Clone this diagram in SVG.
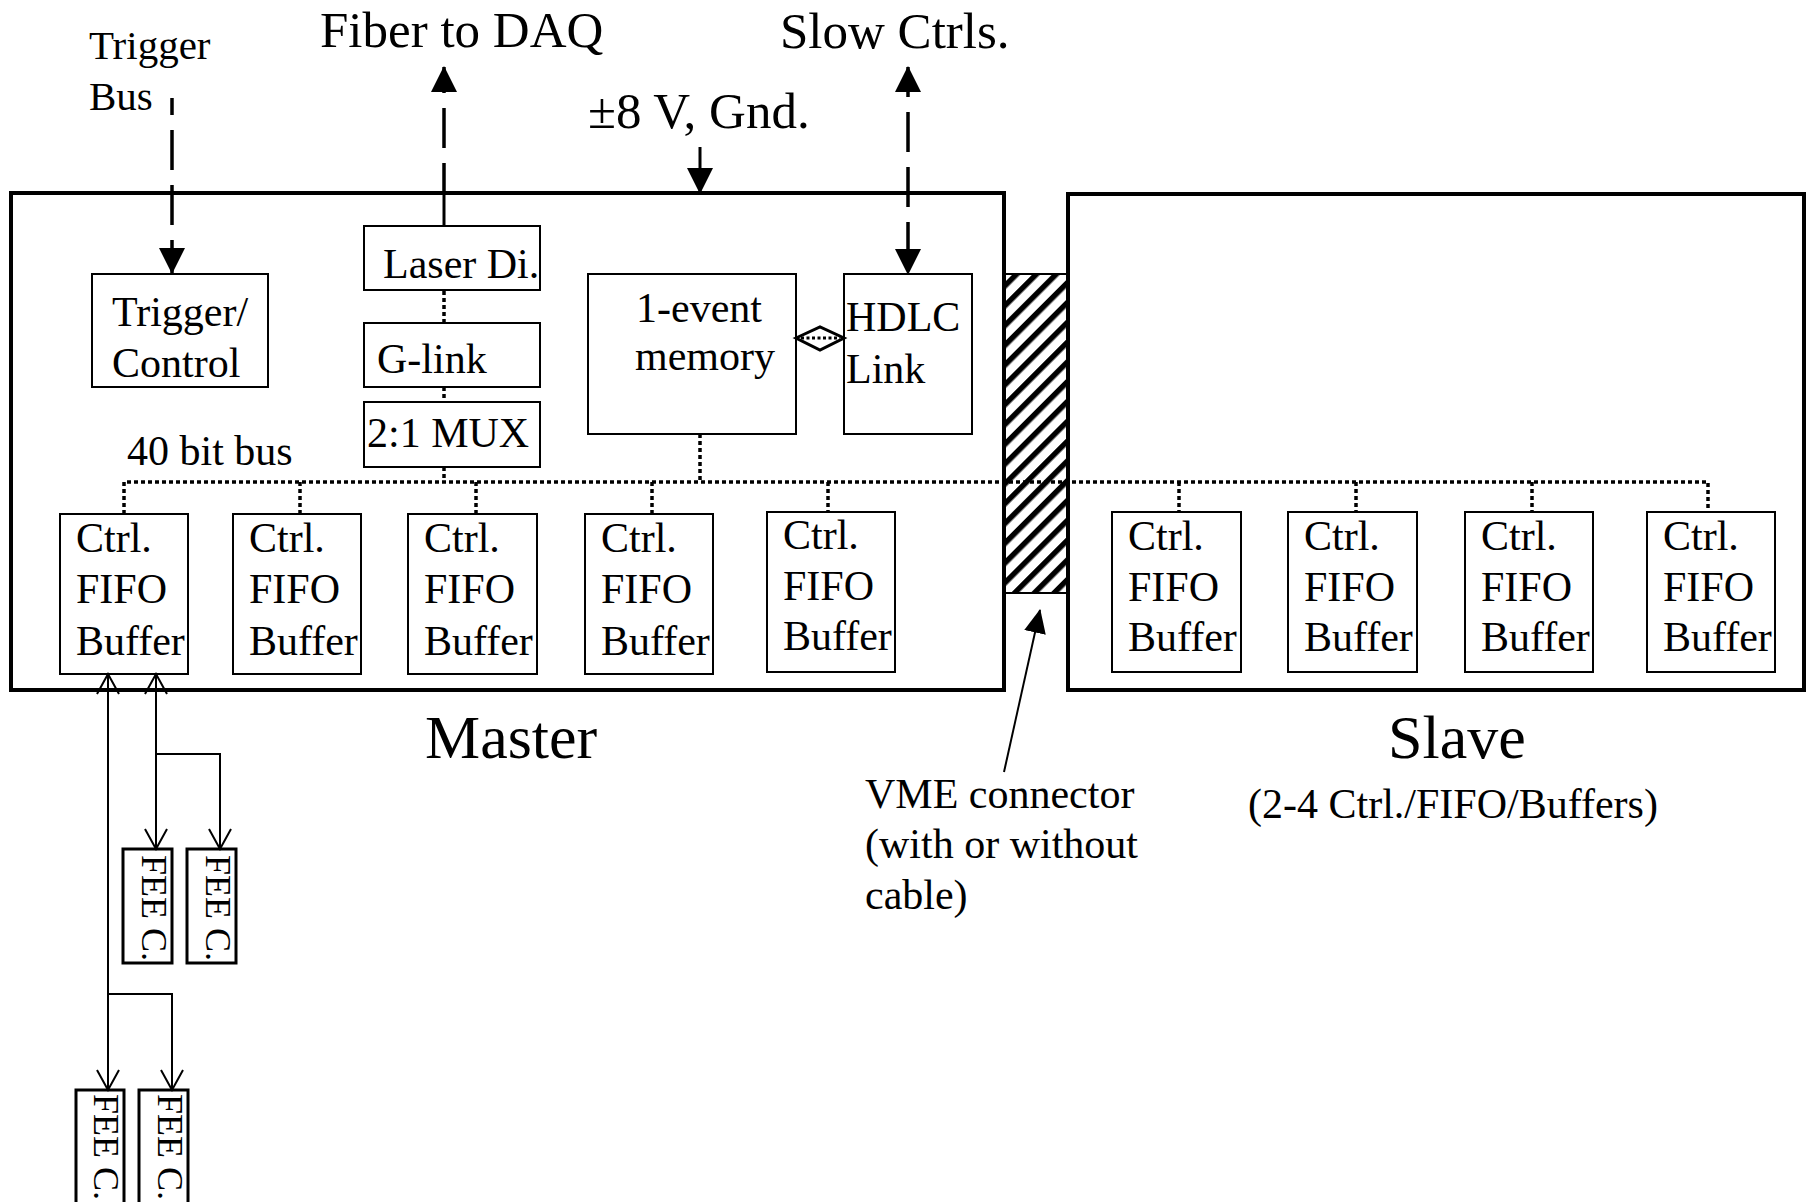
<svg xmlns="http://www.w3.org/2000/svg" width="1813" height="1202" viewBox="0 0 1813 1202">
<style>
text{font-family:"Liberation Serif","Times New Roman",serif;fill:#000}
.t42{font-size:42px}
.t51{font-size:51px}
.t62{font-size:62px}
.board{fill:none;stroke:#000;stroke-width:4}
.box{fill:#fff;stroke:#000;stroke-width:2}
.fee{fill:#fff;stroke:#000;stroke-width:3}
.dot{fill:none;stroke:#000;stroke-width:3.5;stroke-dasharray:4 3}
.dash{fill:none;stroke:#000;stroke-width:3.5;stroke-dasharray:40 15}
.solid{fill:none;stroke:#000;stroke-width:3}
.thin{fill:none;stroke:#000;stroke-width:2}
</style>
<defs>
<marker id="fa" markerUnits="userSpaceOnUse" markerWidth="26" markerHeight="26" viewBox="0 0 26 26" refX="25" refY="13" orient="auto-start-reverse"><path d="M0,0 L26,13 L0,26 z" fill="#000"/></marker>
<marker id="fs" markerUnits="userSpaceOnUse" markerWidth="24" markerHeight="24" viewBox="0 0 24 24" refX="23" refY="12" orient="auto-start-reverse"><path d="M0,1 L24,12 L0,23 z" fill="#000"/></marker>
<marker id="oa" markerUnits="userSpaceOnUse" markerWidth="24" markerHeight="26" viewBox="0 0 24 26" refX="22" refY="13" orient="auto-start-reverse"><path d="M2,2 L22,13 L2,24" fill="none" stroke="#000" stroke-width="2"/></marker>
<pattern id="hatch" patternUnits="userSpaceOnUse" width="14" height="14" patternTransform="rotate(45)"><rect x="0" y="0" width="14" height="14" fill="#fff"/><rect x="0" y="0" width="5.5" height="14" fill="#000"/></pattern>
</defs>
<rect width="1813" height="1202" fill="#fff"/>

<g id="master">
<rect class="board" x="11" y="193" width="993" height="497"/>
<text class="t62" x="425" y="758">Master</text>
</g>
<g id="slave">
<rect class="board" x="1068" y="194" width="736" height="496"/>
<text class="t62" x="1388" y="758">Slave</text>
<text class="t42" x="1248" y="818">(2-4 Ctrl./FIFO/Buffers)</text>
</g>
<g id="vme-connector">
<rect x="1004" y="274" width="64" height="319" fill="url(#hatch)" stroke="#000" stroke-width="2"/>
<line x1="1004" y1="193" x2="1004" y2="690" stroke="#000" stroke-width="4"/>
<line x1="1068" y1="194" x2="1068" y2="690" stroke="#000" stroke-width="4"/>
<text class="t42" x="865" y="808">VME connector</text>
<text class="t42" x="865" y="858">(with or without</text>
<text class="t42" x="865" y="909">cable)</text>
</g>

<g id="labels">
<text style="font-size:41px" x="89" y="59">Trigger</text>
<text style="font-size:41px" x="89" y="110">Bus</text>
<text class="t51" x="320" y="47">Fiber to DAQ</text>
<text class="t51" x="588" y="128">±8 V, Gnd.</text>
<text class="t51" x="780" y="48">Slow Ctrls.</text>
<text class="t42" x="127" y="465">40 bit bus</text>
</g>

<g id="trigger-control">
<rect class="box" x="92" y="274" width="176" height="113"/>
<text class="t42" x="112" y="326">Trigger/</text>
<text class="t42" x="112" y="377">Control</text>
</g>
<g id="laser-di">
<rect class="box" x="364" y="226" width="176" height="64"/>
<text class="t42" x="383" y="278">Laser Di.</text>
</g>
<g id="g-link">
<rect class="box" x="364" y="323" width="176" height="64"/>
<text class="t42" x="377" y="373">G-link</text>
</g>
<g id="mux">
<rect class="box" x="364" y="402" width="176" height="65"/>
<text class="t42" x="367" y="447">2:1 MUX</text>
</g>
<g id="event-memory">
<rect class="box" x="588" y="274" width="208" height="160"/>
<text class="t42" x="636" y="322">1-event</text>
<text class="t42" x="635" y="370">memory</text>
</g>
<g id="hdlc-link">
<rect class="box" x="844" y="274" width="128" height="160"/>
<text class="t42" x="846" y="331">HDLC</text>
<text class="t42" x="846" y="383">Link</text>
</g>

<g id="fifo-m1"><rect class="box" x="60" y="514" width="128" height="160"/><text class="t42" x="76" y="552">Ctrl.</text><text class="t42" x="76" y="603">FIFO</text><text class="t42" x="76" y="655">Buffer</text></g>
<g id="fifo-m2"><rect class="box" x="233" y="514" width="128" height="160"/><text class="t42" x="249" y="552">Ctrl.</text><text class="t42" x="249" y="603">FIFO</text><text class="t42" x="249" y="655">Buffer</text></g>
<g id="fifo-m3"><rect class="box" x="408" y="514" width="129" height="160"/><text class="t42" x="424" y="552">Ctrl.</text><text class="t42" x="424" y="603">FIFO</text><text class="t42" x="424" y="655">Buffer</text></g>
<g id="fifo-m4"><rect class="box" x="585" y="514" width="128" height="160"/><text class="t42" x="601" y="552">Ctrl.</text><text class="t42" x="601" y="603">FIFO</text><text class="t42" x="601" y="655">Buffer</text></g>
<g id="fifo-m5"><rect class="box" x="767" y="512" width="128" height="160"/><text class="t42" x="783" y="549">Ctrl.</text><text class="t42" x="783" y="600">FIFO</text><text class="t42" x="783" y="650">Buffer</text></g>
<g id="fifo-s1"><rect class="box" x="1112" y="512" width="129" height="160"/><text class="t42" x="1128" y="550">Ctrl.</text><text class="t42" x="1128" y="601">FIFO</text><text class="t42" x="1128" y="651">Buffer</text></g>
<g id="fifo-s2"><rect class="box" x="1288" y="512" width="129" height="160"/><text class="t42" x="1304" y="550">Ctrl.</text><text class="t42" x="1304" y="601">FIFO</text><text class="t42" x="1304" y="651">Buffer</text></g>
<g id="fifo-s3"><rect class="box" x="1465" y="512" width="128" height="160"/><text class="t42" x="1481" y="550">Ctrl.</text><text class="t42" x="1481" y="601">FIFO</text><text class="t42" x="1481" y="651">Buffer</text></g>
<g id="fifo-s4"><rect class="box" x="1647" y="512" width="128" height="160"/><text class="t42" x="1663" y="550">Ctrl.</text><text class="t42" x="1663" y="601">FIFO</text><text class="t42" x="1663" y="651">Buffer</text></g>

<g id="fee-1"><rect class="fee" x="123" y="849" width="49" height="114"/><text class="t42" style="font-size:36px" transform="translate(142 855) rotate(90)">FEE C.</text></g>
<g id="fee-2"><rect class="fee" x="187" y="849" width="49" height="114"/><text class="t42" style="font-size:36px" transform="translate(206 855) rotate(90)">FEE C.</text></g>
<g id="fee-3"><rect class="fee" x="76" y="1090" width="48" height="116"/><text class="t42" style="font-size:36px" transform="translate(94 1094) rotate(90)">FEE C.</text></g>
<g id="fee-4"><rect class="fee" x="139" y="1090" width="49" height="116"/><text class="t42" style="font-size:36px" transform="translate(158 1094) rotate(90)">FEE C.</text></g>

<g id="connectors">
<!-- external -->
<line class="dash" x1="172" y1="98" x2="172" y2="273" stroke-dashoffset="23" marker-end="url(#fa)"/>
<line class="dash" x1="444" y1="193" x2="444" y2="67" stroke-dashoffset="10" marker-end="url(#fa)"/>
<line class="solid" x1="444" y1="193" x2="444" y2="226"/>
<line class="solid" x1="700" y1="147" x2="700" y2="193" marker-end="url(#fa)"/>
<line class="dash" x1="908" y1="67" x2="908" y2="274" stroke-dashoffset="10" marker-start="url(#fa)" marker-end="url(#fa)"/>
<!-- internal dotted -->
<line class="dot" x1="444" y1="291" x2="444" y2="323"/>
<line class="dot" x1="444" y1="387" x2="444" y2="402"/>
<line class="dot" x1="444" y1="467" x2="444" y2="482"/>
<line class="dot" x1="700" y1="434" x2="700" y2="482"/>
<polyline class="dot" points="124,514 124,482 1708,482 1708,512"/>
<line class="dot" x1="300" y1="482" x2="300" y2="514"/>
<line class="dot" x1="476" y1="482" x2="476" y2="514"/>
<line class="dot" x1="652" y1="482" x2="652" y2="514"/>
<line class="dot" x1="828" y1="482" x2="828" y2="512"/>
<line class="dot" x1="1179" y1="482" x2="1179" y2="512"/>
<line class="dot" x1="1356" y1="482" x2="1356" y2="512"/>
<line class="dot" x1="1532" y1="482" x2="1532" y2="512"/>
<!-- memory-HDLC -->
<polygon points="796,338 820,327 844,338 820,350" fill="#fff" stroke="#000" stroke-width="3"/>
<line x1="801" y1="338" x2="840" y2="338" stroke="#000" stroke-width="3" stroke-dasharray="3 2.5"/>
<!-- VME pointer -->
<line class="thin" x1="1004" y1="772" x2="1040" y2="610" marker-end="url(#fs)"/>
<!-- FEE links -->
<line class="thin" x1="108" y1="674" x2="108" y2="1090" marker-start="url(#oa)" marker-end="url(#oa)"/>
<polyline class="thin" points="108,994 172,994 172,1090" marker-end="url(#oa)"/>
<line class="thin" x1="156" y1="674" x2="156" y2="849" marker-start="url(#oa)" marker-end="url(#oa)"/>
<polyline class="thin" points="156,754 220,754 220,849" marker-end="url(#oa)"/>
</g>
</svg>
